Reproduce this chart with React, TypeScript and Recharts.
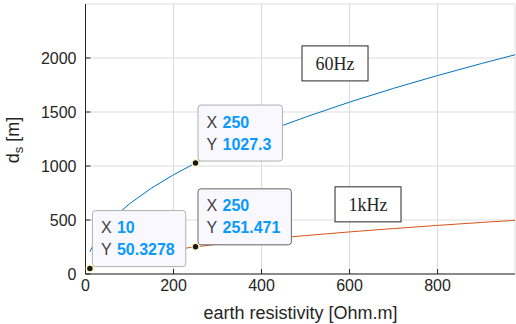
import React from 'react';
import { LineChart, Line, XAxis, YAxis, CartesianGrid, ReferenceDot } from 'recharts';

const resistivity = [10, 20, 30, 50, 75, 100, 150, 200, 250, 300, 350, 400, 450, 500, 600, 700, 800, 900, 976];
const depth60Hz = [205.5, 290.6, 355.9, 459.4, 562.7, 649.7, 795.7, 918.8, 1027.3, 1125.3, 1215.5, 1299.4, 1378.2, 1452.8, 1591.4, 1718.9, 1837.6, 1949.1, 2029.7];
const depth1kHz = [50.33, 71.15, 87.14, 112.5, 137.8, 159.1, 194.9, 225.0, 251.47, 275.6, 297.6, 318.2, 337.5, 355.8, 389.7, 420.9, 450.0, 477.3, 497.0];

const xTicks = [0, 200, 400, 600, 800];
const yTicks = [0, 500, 1000, 1500, 2000];
const xDomain = [0, 976];
const yDomain = [0, 2500];

const tipX = [10, 250, 250];
const tipY = [50.3278, 1027.3, 251.471];
const tipLabelX = ['10', '250', '250'];
const tipLabelY = ['50.3278', '1027.3', '251.471'];
const tipActive = [false, false, true];

const noteText = ['60Hz', '1kHz'];
const noteX = [567, 642];
const noteY = [1950, 645];

const data = resistivity.map((r, i) => ({ rho: r, f60: depth60Hz[i], f1k: depth1kHz[i] }));

const SANS = 'Liberation Sans, Arial, Helvetica, sans-serif';
const SERIF = 'Liberation Serif, Times New Roman, serif';
const AX = '#262626';

const textWidth = (s: string) => {
  let w = 0;
  for (const c of s) w += c === '.' ? 4.45 : 8.9;
  return w;
};

const makeTip = (i: number) => (props: any) => {
  const cx = props.cx;
  const cy = props.cy;
  const vw = Math.max(textWidth(tipLabelX[i]), textWidth(tipLabelY[i]));
  const w = 24.5 + vw + 11;
  const h = 56;
  const bx = cx + 2.5;
  const by = cy - 2 - h;
  const mid = by + h / 2;
  return (
    <g>
      <rect x={bx} y={by} width={w} height={h} rx={3} ry={3} fill="#f8f8fe" stroke={tipActive[i] ? '#666666' : '#b0b0b0'} strokeWidth={1} />
      <text x={bx + 8.5} y={mid - 11} dominantBaseline="central" fontFamily={SANS} fontSize={16} fill="#404040">X</text>
      <text x={bx + 24.5} y={mid - 11} dominantBaseline="central" fontFamily={SANS} fontSize={16} fontWeight="bold" fill="#0a99ff">{tipLabelX[i]}</text>
      <text x={bx + 8.5} y={mid + 11} dominantBaseline="central" fontFamily={SANS} fontSize={16} fill="#404040">Y</text>
      <text x={bx + 24.5} y={mid + 11} dominantBaseline="central" fontFamily={SANS} fontSize={16} fontWeight="bold" fill="#0a99ff">{tipLabelY[i]}</text>
      <circle cx={cx} cy={cy} r={3.5} fill="#1a1a1a" stroke="#fff8c8" strokeWidth={1.5} />
    </g>
  );
};

const makeNote = (i: number) => (props: any) => {
  const cx = props.cx;
  const cy = props.cy;
  return (
    <g>
      <rect x={cx - 33} y={cy - 17.5} width={66} height={35} fill="#ffffff" stroke={AX} strokeWidth={1} />
      <text x={cx} y={cy + 1} textAnchor="middle" dominantBaseline="central" fontFamily={SERIF} fontSize={18} fill={AX}>{noteText[i]}</text>
    </g>
  );
};

const YLabel = () => (
  <text x={19} y={140} transform="rotate(-90 19 140)" textAnchor="middle" fontFamily={SANS} fontSize={18} fill={AX}>
    d<tspan dy={4} fontSize={13}>s</tspan><tspan dy={-4}> [m]</tspan>
  </text>
);

const XLabel = () => (
  <text x={300.5} y={312.5} textAnchor="middle" dominantBaseline="central" fontFamily={SANS} fontSize={18} fill={AX}>
    earth resistivity [Ohm.m]
  </text>
);

export default function App() {
  return (
    <div style={{ position: 'fixed', left: 0, top: 0, width: 516, height: 324, background: '#ffffff' }}>
      <LineChart width={516} height={324} data={data} margin={{ top: 4, right: 1, bottom: 0, left: 0 }}>
        <CartesianGrid stroke="#dcdcdc" strokeWidth={1} />
        <XAxis
          dataKey="rho"
          type="number"
          domain={xDomain}
          ticks={xTicks}
          allowDataOverflow
          height={50}
          stroke={AX}
          tickSize={-5}
          tickMargin={11}
          tick={{ fill: AX, fontSize: 16, fontFamily: SANS }}
          label={<XLabel />}
        />
        <XAxis
          xAxisId="t"
          orientation="top"
          type="number"
          domain={xDomain}
          ticks={xTicks}
          allowDataOverflow
          height={0}
          stroke={AX}
          tickSize={-5}
          tick={false}
        />
        <YAxis
          type="number"
          domain={yDomain}
          ticks={yTicks}
          allowDataOverflow
          width={85.5}
          stroke={AX}
          tickSize={-5}
          tickMargin={14}
          tick={{ fill: AX, fontSize: 16, fontFamily: SANS }}
          label={<YLabel />}
        />
        <YAxis
          yAxisId="r"
          orientation="right"
          type="number"
          domain={yDomain}
          ticks={yTicks}
          allowDataOverflow
          width={0}
          stroke={AX}
          tickSize={-5}
          tick={false}
        />
        <Line dataKey="f60" stroke="#0072bd" strokeWidth={1} dot={false} isAnimationActive={false} />
        <Line dataKey="f1k" stroke="#d95319" strokeWidth={1} dot={false} isAnimationActive={false} />
        {noteText.map((t, i) => (
          <ReferenceDot key={'n' + i} x={noteX[i]} y={noteY[i]} r={0} ifOverflow="visible" shape={makeNote(i)} />
        ))}
        {tipX.map((x, i) => (
          <ReferenceDot key={'t' + i} x={x} y={tipY[i]} r={3.5} ifOverflow="visible" shape={makeTip(i)} />
        ))}
      </LineChart>
    </div>
  );
}
